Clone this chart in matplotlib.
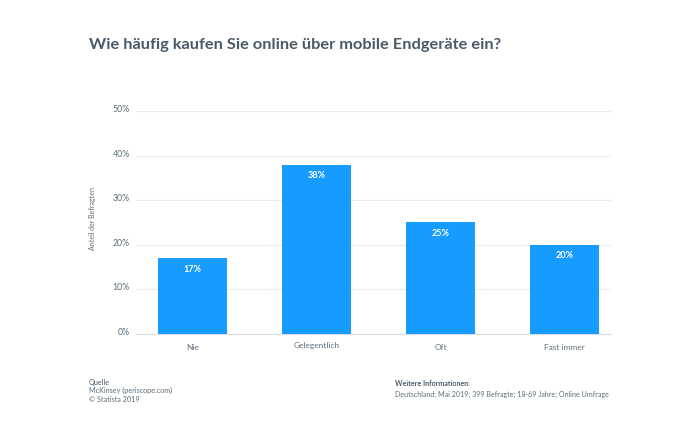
"""Wie häufig kaufen Sie online über mobile Endgeräte ein? (Statista-style bar chart)"""

import matplotlib
matplotlib.use("Agg")
import matplotlib.pyplot as plt
from matplotlib.transforms import ScaledTranslation

categories = ["Nie", "Gelegentlich", "Oft", "Fast immer"]
shares = [17, 38, 25, 20]
y_ticks = [0, 10, 20, 30, 40, 50]

WIDTH, HEIGHT = 700, 446
DARK = "#4a5a68"
MID = "#5f6e7a"
BLUE = "#169bff"

plt.rcParams["font.family"] = ["Lato", "DejaVu Sans"]

fig = plt.figure(figsize=(WIDTH / 100, HEIGHT / 100), dpi=100)


def px_text(x, y, s, **kw):
    # place text using reference pixel coordinates
    fig.text(x / WIDTH, 1 - y / HEIGHT, s, **kw)


# axes box: x 136-611, y 111-334
ax = fig.add_axes([136 / WIDTH, 1 - 334 / HEIGHT, 475 / WIDTH, 223 / HEIGHT])
ax.bar(range(len(categories)), shares, width=69 / 124, color=BLUE, zorder=3)
ax.set_xlim(-56.5 / 124, 3 + 46.5 / 124)
ax.set_ylim(0, 50)

ax.set_yticks(y_ticks)
ax.set_yticklabels([f"{t}%" for t in y_ticks], fontsize=6.3, color=MID)
ax.set_xticks(range(len(categories)))
ax.set_xticklabels(categories, fontsize=6.0, color=MID)
ax.tick_params(axis="both", length=0)
ax.tick_params(axis="y", pad=4.5)
ax.tick_params(axis="x", pad=7.5)

# tick labels sit slightly above their gridlines
lift = ScaledTranslation(0, 1.8 / 72, fig.dpi_scale_trans)
for label in ax.get_yticklabels():
    label.set_transform(label.get_transform() + lift)
# "Gelegentlich" is a bit higher than the others in the reference
ax.get_xticklabels()[1].set_y(0.009)

ax.grid(axis="y", color="#ececec", linewidth=0.8, zorder=0)
ax.set_axisbelow(True)
for side in ["top", "right", "left"]:
    ax.spines[side].set_visible(False)
ax.spines["bottom"].set_color("#dcdfe2")
ax.spines["bottom"].set_linewidth(0.9)

for i, v in enumerate(shares):
    ax.annotate(f"{v}%", (i, v), xytext=(0, -8), textcoords="offset points",
                ha="center", va="center", color="white", fontsize=6.5,
                fontweight="bold", zorder=4)

px_text(92, 218, "Anteil der Befragten", rotation=90, fontsize=5, color=MID,
        ha="center", va="center")

px_text(89, 45, "Wie häufig kaufen Sie online über mobile Endgeräte ein?",
        fontsize=11.8, fontweight="bold", color=DARK, va="center")

px_text(89, 382, "Quelle", fontsize=5.25, color=DARK, va="center")
px_text(89, 390.5, "McKinsey (periscope.com)", fontsize=5.25, color=MID, va="center")
px_text(89, 399, "© Statista 2019", fontsize=5.25, color=MID, va="center")

px_text(395, 383, "Weitere Informationen:", fontsize=5.15, fontweight="bold",
        color=DARK, va="center")
px_text(395, 394, "Deutschland; Mai 2019; 399 Befragte; 18-69 Jahre; Online Umfrage",
        fontsize=5.15, color=MID, va="center")

fig.savefig("out.png", dpi=100)
